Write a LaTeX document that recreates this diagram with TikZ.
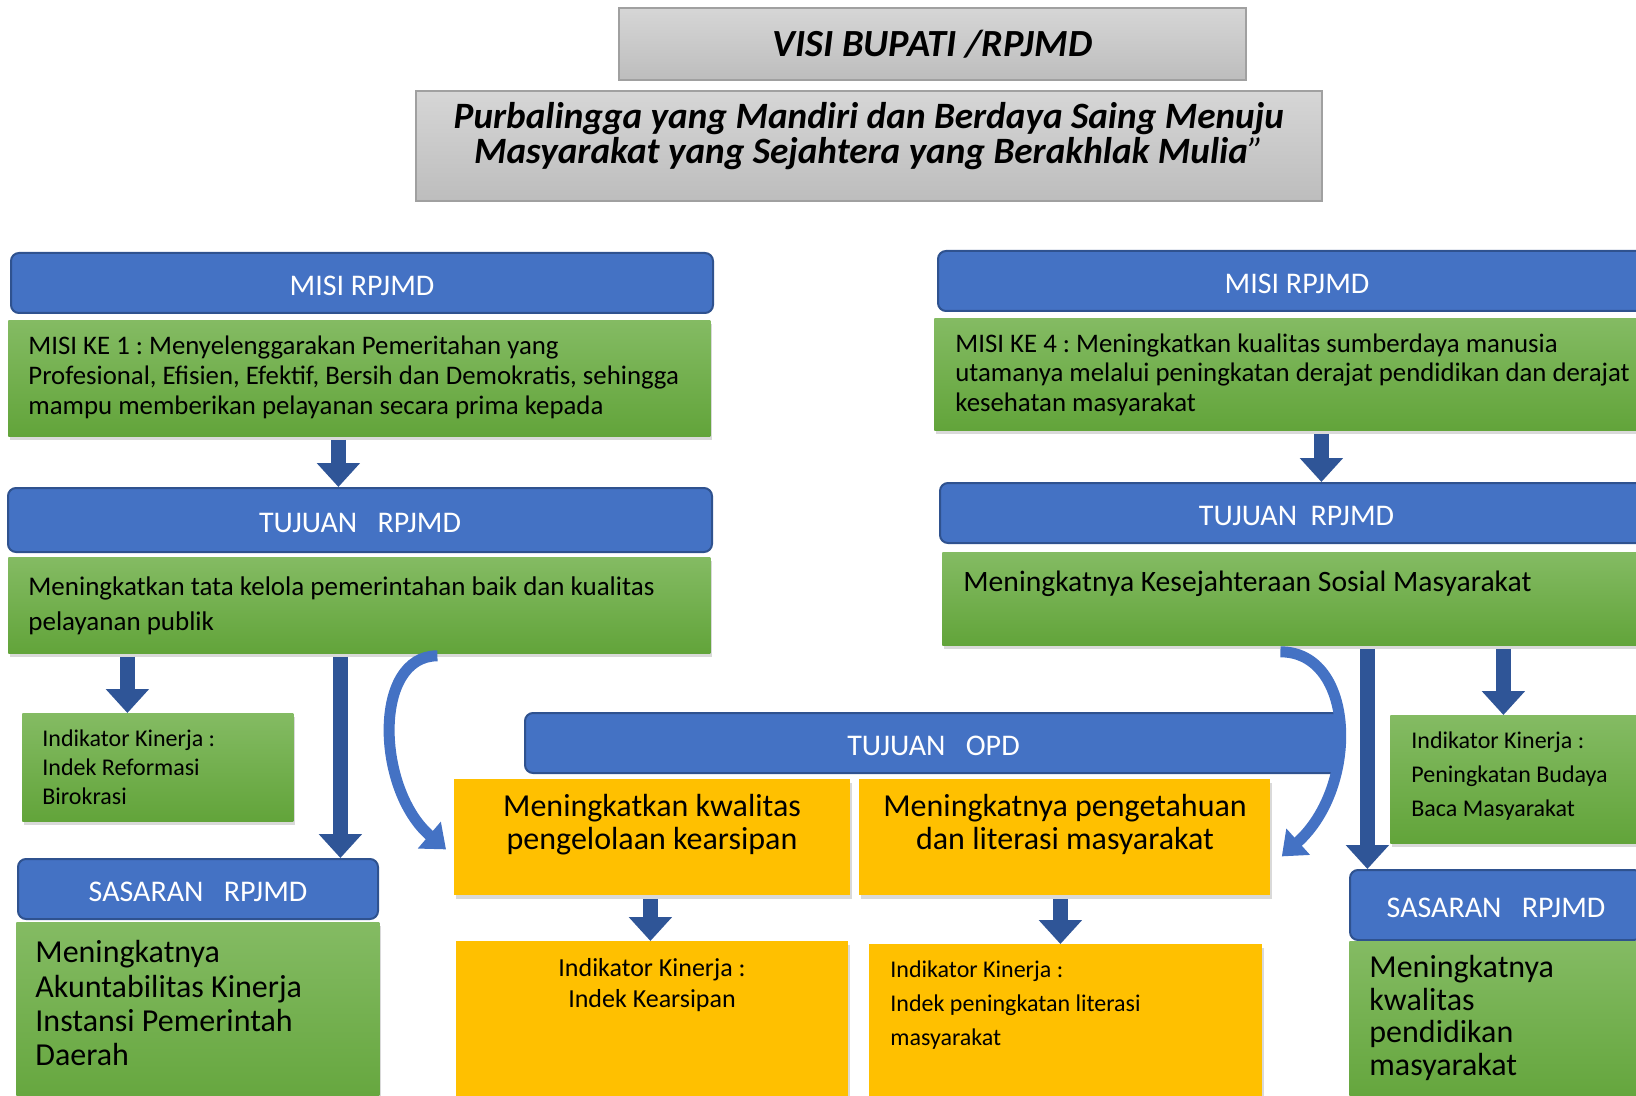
\documentclass[tikz,border=0pt]{standalone}
\usepackage{fontspec}
\setmainfont{Carlito}
\usetikzlibrary{arrows.meta,shadows}
\definecolor{biru}{HTML}{4472C4}
\definecolor{birutua}{HTML}{2F528F}
\definecolor{panah}{HTML}{2F5597}
\definecolor{hijauA}{HTML}{84BB63}
\definecolor{hijauB}{HTML}{62A43A}
\definecolor{oranye}{HTML}{FFC000}
\definecolor{abuA}{HTML}{D6D6D6}
\definecolor{abuB}{HTML}{BDBDBD}
\definecolor{abuG}{HTML}{A0A0A0}
\frenchspacing

\begin{document}
\begin{tikzpicture}[x=0.5pt,y=-0.5pt,
    kotak/.style={anchor=north west, inner sep=0pt},
    hd/.style={kotak, draw=birutua, line width=1pt, fill=biru, rounded corners=4pt,
      text=white, font=\fontsize{15}{17}\selectfont, text height=12.7pt, text depth=0pt},
    grn/.style={kotak, top color=hijauA, bottom color=hijauB,
      drop shadow={opacity=.3, shadow xshift=1pt, shadow yshift=-2pt}},
    org/.style={kotak, fill=oranye,
      drop shadow={opacity=.3, shadow xshift=1pt, shadow yshift=-2pt}},
    abu/.style={kotak, top color=abuA, bottom color=abuB, draw=abuG, line width=.8pt},
    txt/.style={anchor=north west, inner sep=0pt, align=left},
    blok/.style={draw=panah, line width=7.5pt, -{Triangle[width=21pt,length=12pt]},
      shorten <=1.5pt},
    lengkung/.style={draw=biru, line width=5.5pt, -{Triangle[width=17pt,length=11pt]}}]
\useasboundingbox (0,0) rectangle (1636,1096);
\clip (0,0) rectangle (1636,1096);

% visi
\node[abu, minimum width=313.5pt, minimum height=36pt,
  font=\fontsize{19.2}{20}\selectfont\bfseries\itshape] (visi) at (618,7) {VISI BUPATI /RPJMD};
\node[abu, minimum width=453pt, minimum height=55pt] (visiIsi) at (415,90) {};
\node[inner sep=0pt, align=center, font=\fontsize{18.6}{17.6}\selectfont\bfseries\itshape]
  (visiTeks) at ([yshift=5pt]visiIsi.center)
  {Purbalingga yang Mandiri dan Berdaya Saing Menuju\\
   Masyarakat yang Sejahtera yang Berakhlak Mulia{\mdseries ”}};

% kolom kiri
\node[hd, minimum width=351pt, minimum height=30pt] (hdMisiL) at (10,252) {MISI RPJMD};
\node[grn, minimum width=351pt, minimum height=58pt] (misiL) at (8,320) {};
\node[txt, font=\fontsize{13.4}{15}\selectfont] (misiLt) at (28,335)
  {MISI KE 1 : Menyelenggarakan Pemeritahan yang\\
   Profesional, Efisien, Efektif, Bersih dan Demokratis, sehingga\\
   mampu memberikan pelayanan secara prima kepada};
\node[hd, minimum width=352pt, minimum height=32pt] (hdTujL) at (7,487) {TUJUAN~~~RPJMD};
\node[grn, minimum width=351pt, minimum height=48pt] (tujL) at (8,557) {};
\node[txt, font=\fontsize{13.5}{17.5}\selectfont] (tujLt) at (28,576)
  {Meningkatkan tata kelola pemerintahan baik dan kualitas\\pelayanan publik};
\node[grn, minimum width=135.5pt, minimum height=54pt] (indL) at (22,713) {};
\node[txt, font=\fontsize{12}{14.5}\selectfont] (indLt) at (42,729)
  {Indikator Kinerja :\\Indek Reformasi\\Birokrasi};
\node[hd, minimum width=180pt, minimum height=30pt] (hdSasL) at (17,858) {SASARAN~~~RPJMD};
\node[grn, minimum width=181.5pt, minimum height=100pt] (sasL) at (16,922) {};
\node[txt, font=\fontsize{16}{17.2}\selectfont] (sasLt) at (35,940)
  {Meningkatnya\\Akuntabilitas Kinerja\\Instansi Pemerintah\\Daerah};

% tengah
\node[hd, minimum width=408.5pt, minimum height=30pt] (hdOpd) at (524,712) {TUJUAN~~~OPD};
\node[org, minimum width=198pt, minimum height=58pt] (opdA) at (454,779) {};
\node[inner sep=0pt, anchor=north, align=center, font=\fontsize{16}{16.6}\selectfont]
  (opdAt) at (652,794) {Meningkatkan kwalitas\\pengelolaan kearsipan};
\node[org, minimum width=205.5pt, minimum height=58pt] (opdB) at (859,779) {};
\node[inner sep=0pt, anchor=north, align=center, font=\fontsize{16}{16.6}\selectfont]
  (opdBt) at (1065,794) {Meningkatnya pengetahuan\\dan literasi masyarakat};
\node[org, minimum width=196pt, minimum height=85pt] (indA) at (456,941) {};
\node[inner sep=0pt, anchor=north, align=center, font=\fontsize{13}{15.7}\selectfont]
  (indAt) at (652,958) {Indikator Kinerja :\\Indek Kearsipan};
\node[org, minimum width=196.5pt, minimum height=85pt] (indB) at (869,944) {};
\node[txt, font=\fontsize{12}{17}\selectfont] (indBt) at (890,960)
  {Indikator Kinerja :\\Indek peningkatan literasi\\masyarakat};

% kolom kanan
\node[hd, minimum width=359pt, minimum height=30pt] (hdMisiR) at (937,250) {MISI RPJMD};
\node[grn, minimum width=363pt, minimum height=56pt] (misiR) at (934,318) {};
\node[txt, font=\fontsize{13.4}{14.8}\selectfont] (misiRt) at (955,333)
  {MISI KE 4 : Meningkatkan kualitas sumberdaya manusia\\
   utamanya melalui peningkatan derajat pendidikan dan derajat\\
   kesehatan masyarakat};
\node[hd, minimum width=356.5pt, minimum height=30pt] (hdTujR) at (939,482) {TUJUAN~~RPJMD};
\node[grn, minimum width=359pt, minimum height=46.5pt] (tujR) at (942,552) {};
\node[txt, font=\fontsize{14.8}{17}\selectfont] (tujRt) at (963,571)
  {Meningkatnya Kesejahteraan Sosial Masyarakat};
\node[grn, minimum width=135pt, minimum height=64pt] (indR) at (1390,715) {};
\node[txt, font=\fontsize{12}{17}\selectfont] (indRt) at (1411,731)
  {Indikator Kinerja :\\Peningkatan Budaya\\Baca Masyarakat};
\node[hd, minimum width=146pt, minimum height=35pt] (hdSasR) at (1349,869) {SASARAN~~~RPJMD};
\node[grn, minimum width=155.5pt, minimum height=85pt] (sasR) at (1349,941) {};
\node[txt, font=\fontsize{16}{16.3}\selectfont] (sasRt) at (1369,955)
  {Meningkatnya\\kwalitas\\pendidikan\\masyarakat};

% panah
\foreach \u/\v/\s in {misiL/hdTujL/-10.5pt, misiR/hdTujR/12pt, tujL/indL/-116pt,
    tujL/hdSasL/-9.5pt, tujR/indR/101pt, tujR/hdSasR/33pt, opdA/indA/-1pt, opdB/indB/-2.25pt}
  \draw[blok] ([xshift=\s]\u.south) -- ([xshift=\s]\u.south |- \v.north);
\draw[lengkung] ([xshift=39pt,yshift=-1pt]tujL.south) .. controls +(-65,0) and +(-70,-60)
  .. ([xshift=-4pt,yshift=-6pt]opdA.west);
\draw[lengkung] ([xshift=-10.5pt,yshift=-3pt]tujR.south) .. controls +(75,0) and +(78,-70)
  .. ([xshift=5.5pt,yshift=-9.5pt]opdB.east);

\end{tikzpicture}
\end{document}
